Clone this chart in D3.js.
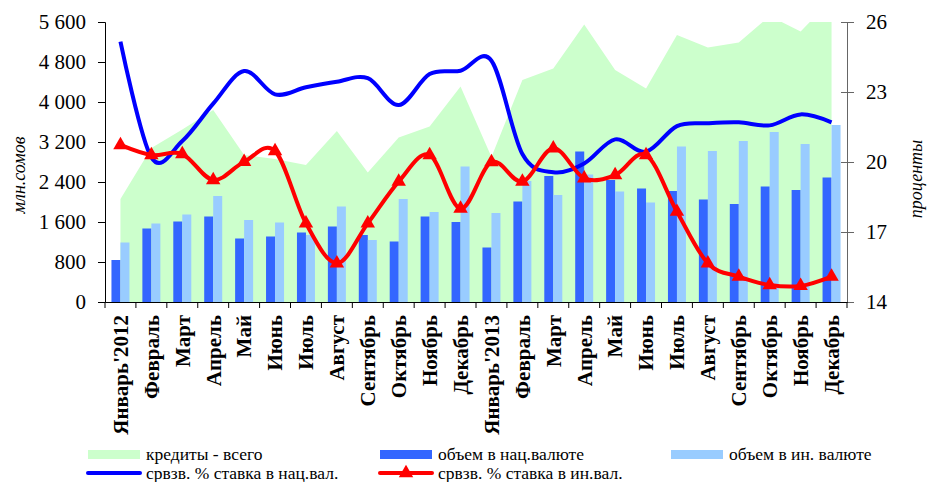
<!DOCTYPE html>
<html>
<head>
<meta charset="utf-8">
<script src="https://cdn.jsdelivr.net/npm/d3@7"></script>
<style>
  body { margin: 0; background: #fff; }
  svg { font-family: "Liberation Serif", "Times New Roman", serif; }
</style>
</head>
<body>
<svg width="928" height="482"></svg>
<script>
// months, Jan 2012 .. Dec 2013
var months = ["Январь'2012", "Февраль", "Март", "Апрель", "Май", "Июнь", "Июль", "Август",
    "Сентябрь", "Октябрь", "Ноябрь", "Декабрь",
    "Январь'2013", "Февраль", "Март", "Апрель", "Май", "Июнь", "Июль", "Август",
    "Сентябрь", "Октябрь", "Ноябрь", "Декабрь"];

// млн.сомов
var creditsTotal = [2060, 3080, 3450, 3840, 2940, 2860, 2740, 3420, 2590, 3290, 3510, 4310,
    2900, 4440, 4670, 5550, 4640, 4270, 5340, 5090, 5190, 5720, 5410, 6050];
var volumeNat = [840, 1470, 1610, 1710, 1270, 1310, 1390, 1510, 1340, 1210, 1710, 1600,
    1090, 2010, 2520, 3010, 2440, 2270, 2220, 2050, 1960, 2310, 2240, 2490];
var volumeFor = [1190, 1570, 1750, 2120, 1640, 1590, 1340, 1910, 1240, 2060, 1800, 2710,
    1780, 2420, 2140, 2550, 2210, 1990, 3110, 3020, 3220, 3400, 3160, 3540];

// проценты
var rateNat = [25.16, 20.2, 20.9, 22.5, 23.9, 22.9, 23.2, 23.44, 23.59, 22.44, 23.77, 23.91,
    24.34, 20.34, 19.56, 19.94, 20.97, 20.44, 21.54, 21.66, 21.7, 21.57, 22.04, 21.7];
var rateFor = [20.73, 20.3, 20.34, 19.23, 20.01, 20.47, 17.37, 15.66, 17.37, 19.16, 20.3, 18.0,
    20.0, 19.16, 20.59, 19.3, 19.44, 20.3, 17.87, 15.66, 15.09, 14.73, 14.69, 15.09];

var leftTicks = [0, 800, 1600, 2400, 3200, 4000, 4800, 5600];
var rightTicks = [14, 17, 20, 23, 26];

var svg = d3.select("svg"),
    margin = { top: 22, right: 81, bottom: 180, left: 105 },
    width = +svg.attr("width") - margin.left - margin.right,
    height = +svg.attr("height") - margin.top - margin.bottom,
    g = svg.append("g").attr("transform", "translate(" + margin.left + "," + margin.top + ")");

var x = d3.scaleBand().domain(d3.range(months.length)).range([0, width]);
var y = d3.scaleLinear().domain([0, 5600]).range([height, 0]);
var y2 = d3.scaleLinear().domain([14, 26]).range([height, 0]);

svg.append("defs").append("clipPath").attr("id", "plot")
    .append("rect").attr("width", width).attr("height", height);

var cx = function (i) { return x(i) + x.bandwidth() / 2; };

// credits area
var area = d3.area()
    .x(function (d, i) { return cx(i); })
    .y0(height)
    .y1(function (d) { return y(d); });

g.append("path")
    .datum(creditsTotal)
    .attr("clip-path", "url(#plot)")
    .attr("fill", "#ccffcc")
    .attr("d", area);

// bars
var barW = 9;
g.append("g").selectAll("rect")
    .data(volumeNat)
    .enter().append("rect")
    .attr("x", function (d, i) { return cx(i) - barW; })
    .attr("y", function (d) { return y(d); })
    .attr("width", barW)
    .attr("height", function (d) { return height - y(d); })
    .attr("fill", "#3366ff");

g.append("g").selectAll("rect")
    .data(volumeFor)
    .enter().append("rect")
    .attr("x", function (d, i) { return cx(i); })
    .attr("y", function (d) { return y(d); })
    .attr("width", barW)
    .attr("height", function (d) { return height - y(d); })
    .attr("fill", "#99ccff");

// rate lines
var line = d3.line()
    .x(function (d, i) { return cx(i); })
    .y(function (d) { return y2(d); })
    .curve(d3.curveCardinal.tension(0));

g.append("path")
    .datum(rateNat)
    .attr("fill", "none")
    .attr("stroke", "#0000ff")
    .attr("stroke-width", 4)
    .attr("d", line);

g.append("path")
    .datum(rateFor)
    .attr("fill", "none")
    .attr("stroke", "#ff0000")
    .attr("stroke-width", 4)
    .attr("d", line);

var tri = d3.symbol().type(d3.symbolTriangle).size(90);
g.append("g").selectAll("path")
    .data(rateFor)
    .enter().append("path")
    .attr("transform", function (d, i) { return "translate(" + cx(i) + "," + y2(d) + ")"; })
    .attr("d", tri)
    .attr("fill", "#ff0000");

// axes
var yAxis = g.append("g")
    .call(d3.axisLeft(y).tickValues(leftTicks).tickSize(7).tickPadding(12)
        .tickFormat(function (d) { return d3.format(",")(d).replace(",", " "); }));
yAxis.attr("font-family", null);
yAxis.selectAll("text").style("font-size", "21px").attr("fill", "#000");
yAxis.selectAll("path, line").attr("stroke", "#000");

var y2Axis = g.append("g")
    .attr("transform", "translate(" + width + ",0)")
    .call(d3.axisRight(y2).tickValues(rightTicks).tickSize(7).tickPadding(12));
y2Axis.attr("font-family", null);
y2Axis.selectAll("text").style("font-size", "21px").attr("fill", "#000");
y2Axis.selectAll("path, line").attr("stroke", "#666");
y2Axis.selectAll(".tick line").attr("x1", -6);

var xAxis = g.append("g")
    .attr("transform", "translate(0," + height + ")")
    .call(d3.axisBottom(x).tickSize(0).tickFormat(function (i) { return months[i]; }));
xAxis.attr("font-family", null);
xAxis.select("path").attr("stroke", "#000");
xAxis.selectAll("text")
    .style("font-size", "21px")
    .style("font-weight", "bold")
    .attr("fill", "#000")
    .attr("transform", "rotate(-90)")
    .attr("x", -13)
    .attr("y", 0)
    .attr("dy", "0.35em")
    .style("text-anchor", "end");

g.append("g").selectAll("line")
    .data(d3.range(months.length + 1))
    .enter().append("line")
    .attr("x1", function (i) { return i * x.step(); })
    .attr("x2", function (i) { return i * x.step(); })
    .attr("y1", height)
    .attr("y2", height + 6)
    .attr("stroke", "#000");

// axis titles
svg.append("text")
    .attr("transform", "translate(25,175) rotate(-90)")
    .attr("text-anchor", "middle")
    .style("font-style", "italic")
    .style("font-size", "18px")
    .text("млн.сомов");

svg.append("text")
    .attr("transform", "translate(922,179) rotate(-90)")
    .attr("text-anchor", "middle")
    .style("font-style", "italic")
    .style("font-size", "18px")
    .text("проценты");

// legend
var legend = svg.append("g").style("font-size", "17.5px");
var items = [
    { label: "кредиты - всего", x: 88, y: 454, type: "rect", color: "#ccffcc" },
    { label: "объем в нац.валюте", x: 380, y: 454, type: "rect", color: "#3366ff" },
    { label: "объем в ин. валюте", x: 671, y: 454, type: "rect", color: "#99ccff" },
    { label: "срвзв. % ставка в нац.вал.", x: 88, y: 473, type: "line", color: "#0000ff" },
    { label: "срвзв. % ставка в ин.вал.", x: 380, y: 473, type: "marker", color: "#ff0000" }
];
items.forEach(function (it) {
    if (it.type === "rect") {
        legend.append("rect").attr("x", it.x).attr("y", it.y - 4).attr("width", 52).attr("height", 9)
            .attr("fill", it.color);
    } else {
        legend.append("line").attr("x1", it.x).attr("x2", it.x + 52).attr("y1", it.y).attr("y2", it.y)
            .attr("stroke", it.color).attr("stroke-width", 4).attr("stroke-linecap", "round");
        if (it.type === "marker") {
            legend.append("path").attr("transform", "translate(" + (it.x + 26) + "," + it.y + ")")
                .attr("d", tri).attr("fill", it.color);
        }
    }
    legend.append("text").attr("x", it.x + 58).attr("y", it.y + 6).text(it.label);
});
</script>
</body>
</html>
